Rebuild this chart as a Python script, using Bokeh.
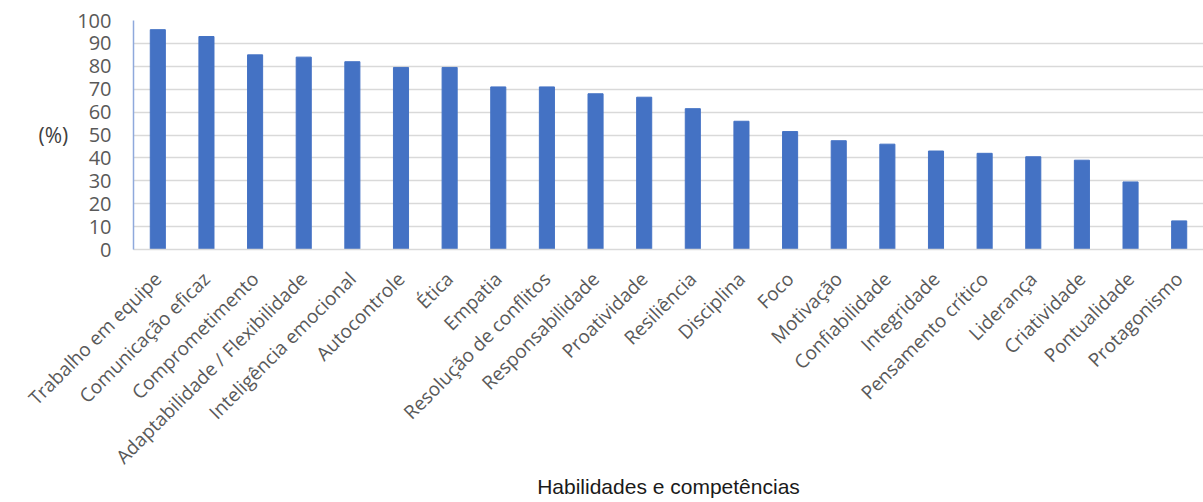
import math
from bokeh.plotting import figure
from bokeh.models import FactorRange, Range1d, FixedTicker
from bokeh.embed import file_html
from bokeh.resources import INLINE

categories = [
    "Trabalho em equipe", "Comunicação eficaz", "Comprometimento",
    "Adaptabilidade / Flexibilidade", "Inteligência emocional", "Autocontrole",
    "Ética", "Empatia", "Resolução de conflitos", "Responsabilidade",
    "Proatividade", "Resiliência", "Disciplina", "Foco", "Motivação",
    "Confiabilidade", "Integridade", "Pensamento crítico", "Liderança",
    "Criatividade", "Pontualidade", "Protagonismo",
]
values = [96, 93, 85, 84, 82, 79.5, 79.5, 71, 71, 68, 66.5, 61.5, 56, 51.5,
          47.5, 46, 43, 42, 40.5, 39, 29.5, 12.5]
y_ticks = [0, 10, 20, 30, 40, 50, 60, 70, 80, 90, 100]
y_title = "(%)"
x_title = "Habilidades e competências"

p = figure(width=1203, height=502, x_range=FactorRange(*categories, range_padding=0),
           y_range=Range1d(0, 100), output_backend="svg", toolbar_location=None,
           min_border_left=133, min_border_top=20, min_border_right=0,
           min_border_bottom=253)
p.outline_line_color = None
p.background_fill_color = "white"
p.border_fill_color = "white"

p.vbar(x=categories, top=values, width=0.31, color="#4472C4")

p.xgrid.grid_line_color = None
p.ygrid.grid_line_color = "#d9d9d9"
p.ygrid.grid_line_width = 1.5
p.yaxis.ticker = FixedTicker(ticks=y_ticks)

p.yaxis.axis_line_color = "#8fa9dc"
p.yaxis.axis_line_width = 1.5
p.yaxis.major_tick_line_color = None
p.yaxis.minor_tick_line_color = None
p.yaxis.major_label_text_font = "Open Sans"
p.yaxis.major_label_text_font_size = "20px"
p.yaxis.major_label_text_color = "#595959"
p.yaxis.major_label_standoff = 16
p.yaxis.axis_label = y_title
p.yaxis.axis_label_orientation = "horizontal"
p.yaxis.axis_label_text_font = "Open Sans"
p.yaxis.axis_label_text_font_style = "normal"
p.yaxis.axis_label_text_font_size = "21px"
p.yaxis.axis_label_text_color = "#404040"
p.yaxis.axis_label_standoff = 6

p.xaxis.axis_line_color = "#d9d9d9"
p.xaxis.axis_line_width = 1.5
p.xaxis.major_tick_line_color = None
p.xaxis.minor_tick_line_color = None
p.xaxis.major_label_orientation = math.pi / 4
p.xaxis.major_label_text_font = "Open Sans"
p.xaxis.major_label_text_font_size = "19px"
p.xaxis.major_label_text_color = "#595959"
p.xaxis.major_label_standoff = 20
p.xaxis.axis_label = x_title
p.xaxis.axis_label_text_font = "Liberation Sans"
p.xaxis.axis_label_text_font_style = "normal"
p.xaxis.axis_label_text_font_size = "21px"
p.xaxis.axis_label_text_color = "#1a1a1a"
p.xaxis.axis_label_standoff = -6

open("out.html", "w").write(file_html(p, INLINE))
